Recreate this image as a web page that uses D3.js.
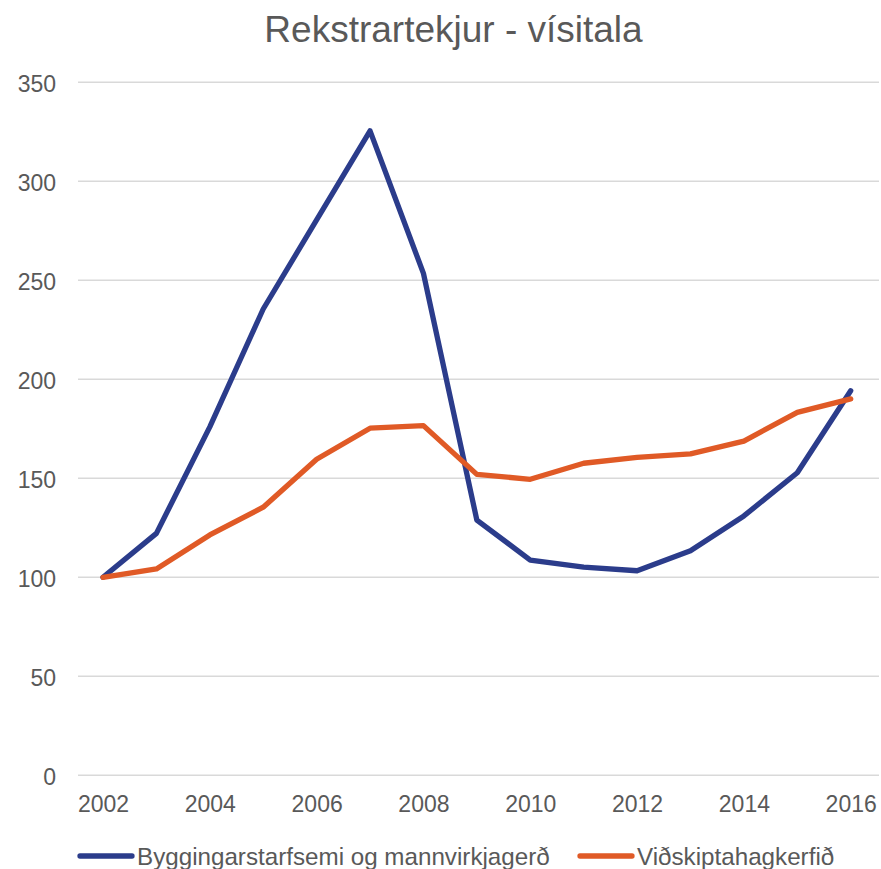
<!DOCTYPE html>
<html><head><meta charset="utf-8">
<script src="https://cdn.jsdelivr.net/npm/d3@7"></script>
<style>body{margin:0;background:#fff;}svg{display:block;font-family:"Liberation Sans",Arial,sans-serif;}</style>
</head><body>
<svg id="chart" width="881" height="869"></svg>
<script>
const years = [2002,2003,2004,2005,2006,2007,2008,2009,2010,2011,2012,2013,2014,2015,2016];
const bygging = [100,122.2,176,235.5,280.5,325.5,253.5,128.9,108.7,105.1,103.3,113.4,131.0,152.8,194.2];
const vidskipti = [100,104.2,121.4,135.4,159.6,175.3,176.6,152.0,149.5,157.6,160.6,162.3,168.8,183.3,190.1];
const yTicks = [0,50,100,150,200,250,300,350];
const xTicks = [2002,2004,2006,2008,2010,2012,2014,2016];
const seriesNames = ["Byggingarstarfsemi og mannvirkjagerð","Viðskiptahagkerfið"];
const colors = ["#2B3C8B","#E05A26"];
const title = "Rekstrartekjur - vísitala";

const svg = d3.select("#chart");
const x = d3.scaleLinear().domain([2002,2016]).range([103,850.7]);
const y = d3.scaleLinear().domain([0,350]).range([775.3,82.3]);
const FS = 23;
const LFS = 24.2;

svg.append("text").attr("x",453.5).attr("y",42).attr("text-anchor","middle")
  .attr("font-size",37).attr("fill","#595959").text(title);

const yAxis = d3.axisLeft(y).tickValues(yTicks).tickSize(0).tickPadding(0);
const gy = svg.append("g").attr("transform","translate(56,2)").call(yAxis);
gy.select(".domain").remove();
gy.selectAll("text").attr("font-size",FS).attr("fill","#595959").attr("font-family","Liberation Sans, Arial, sans-serif");

svg.append("g").selectAll("line").data(yTicks).join("line")
  .attr("x1",78).attr("x2",879).attr("y1",d=>y(d)).attr("y2",d=>y(d))
  .attr("stroke","#d9d9d9").attr("stroke-width",1.5);

const xAxis = d3.axisBottom(x).tickValues(xTicks).tickFormat(d3.format("d")).tickSize(0).tickPadding(0);
const gx = svg.append("g").attr("transform","translate(0,796)").call(xAxis);
gx.select(".domain").remove();
gx.selectAll("text").attr("font-size",FS).attr("fill","#595959").attr("font-family","Liberation Sans, Arial, sans-serif");

const line = d3.line().x((d,i)=>x(years[i])).y(d=>y(d));
[bygging,vidskipti].forEach((s,k)=>{
  svg.append("path").datum(s).attr("d",line).attr("fill","none")
    .attr("stroke",colors[k]).attr("stroke-width",5.3).attr("stroke-linejoin","round").attr("stroke-linecap","round");
});

const legX = [78,578];
seriesNames.forEach((n,k)=>{
  svg.append("line").attr("x1",legX[k]+2).attr("x2",legX[k]+54).attr("y1",856).attr("y2",856)
    .attr("stroke",colors[k]).attr("stroke-width",5.3).attr("stroke-linecap","round");
  svg.append("text").attr("x",legX[k]+59).attr("y",864.5).attr("font-size",LFS).attr("fill","#595959").text(n);
});
</script>
</body></html>
